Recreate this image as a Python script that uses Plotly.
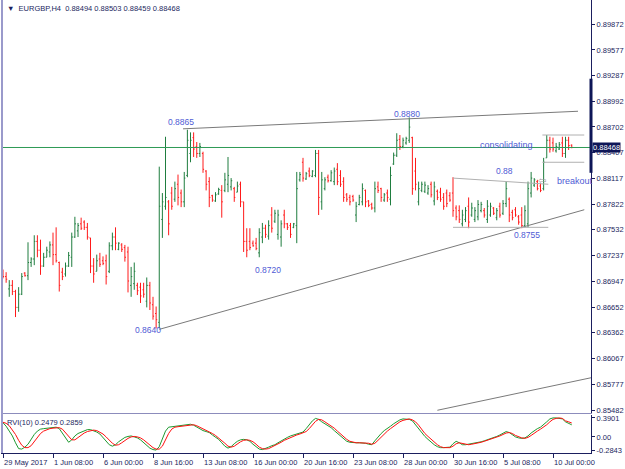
import plotly.graph_objects as go

# ---------------- data ----------------
open_ = [
 0.8706,0.8700,0.8686,0.8690,0.8683,0.8665,0.8680,0.8704,0.8701,0.8716,
 0.8720,0.8740,0.8730,0.8712,0.8722,0.8728,0.8736,0.8725,0.8716,0.8705,
 0.8703,0.8712,0.8722,0.8745,0.8752,0.8760,0.8762,0.8756,0.8744,0.8712,
 0.8706,0.8720,0.8718,0.8718,0.8706,0.8735,0.8745,0.8731,0.8736,0.8733,
 0.8728,0.8690,0.8692,0.8690,0.8688,0.8685,0.8672,0.8690,0.8668,0.8658,
 0.8648,0.8765,0.8780,0.8785,0.8795,0.8788,0.8805,0.8795,0.8785,0.8815,
 0.8840,0.8858,0.8848,0.8840,0.8840,0.8820,0.8808,0.8792,0.8786,0.8794,
 0.8798,0.8798,0.8805,0.8802,0.8800,0.8796,0.8805,0.8785,0.8740,0.8740,
 0.8738,0.8738,0.8727,0.8745,0.8755,0.8746,0.8770,0.8763,0.8748,0.8745,
 0.8770,0.8760,0.8758,0.8756,0.8758,0.8810,0.8830,0.8811,0.8820,0.8814,
 0.8815,0.8840,0.8785,0.8800,0.8813,0.8809,0.8808,0.8822,0.8815,0.8808,
 0.8793,0.8790,0.8791,0.8770,0.8782,0.8785,0.8798,0.8786,0.8782,0.8778,
 0.8802,0.8800,0.8787,0.8795,0.8788,0.8828,0.8838,0.8856,0.8848,0.8852,
 0.8855,0.8858,0.8820,0.8785,0.8798,0.8797,0.8795,0.8805,0.8786,0.8797,
 0.8796,0.8790,0.8795,0.8792,0.8795,0.8778,0.8775,0.8760,0.8765,0.8780,
 0.8770,0.8765,0.8768,0.8775,0.8775,0.8765,0.8770,0.8778,0.8767,0.8780,
 0.8772,0.8783,0.8788,0.8773,0.8776,0.8768,0.8770,0.8758,0.8760,0.8795,
 0.8804,0.8808,0.8803,0.8800,0.8835,0.8855,0.8852,0.8843,0.8845,0.8852,
 0.8840,0.8855,0.88494]
high = [
 0.8708,0.8705,0.8696,0.8696,0.8685,0.8688,0.8704,0.8705,0.8739,0.8722,
 0.8747,0.8747,0.8742,0.8727,0.8734,0.8740,0.8750,0.8756,0.8717,0.8710,
 0.8716,0.8728,0.8750,0.8768,0.8761,0.8767,0.8764,0.8761,0.8744,0.8721,
 0.8725,0.8727,0.8723,0.8725,0.8739,0.8750,0.8756,0.8739,0.8738,0.8736,
 0.8734,0.8711,0.8716,0.8693,0.8693,0.8693,0.8699,0.8694,0.8677,0.8666,
 0.8825,0.8795,0.8859,0.8787,0.8802,0.8808,0.8816,0.8799,0.8819,0.8867,
 0.8864,0.8864,0.8853,0.8852,0.8842,0.8821,0.8813,0.8793,0.8796,0.8801,
 0.8804,0.8818,0.8836,0.8812,0.8802,0.8808,0.8808,0.8785,0.8755,0.8755,
 0.8741,0.8744,0.8755,0.8761,0.8759,0.8764,0.8779,0.8776,0.8776,0.8764,
 0.8776,0.8761,0.8761,0.8761,0.8819,0.8819,0.8835,0.8819,0.8824,0.8821,
 0.8844,0.8844,0.8819,0.8813,0.8816,0.8821,0.8824,0.8829,0.8821,0.8813,
 0.8795,0.8793,0.8793,0.8785,0.8793,0.8806,0.8799,0.8787,0.8784,0.8808,
 0.8808,0.8801,0.8795,0.8799,0.8825,0.8841,0.8863,0.8861,0.8858,0.8859,
 0.8881,0.8859,0.8835,0.8808,0.8808,0.8808,0.8804,0.8808,0.8808,0.8799,
 0.8801,0.8795,0.8799,0.8796,0.8813,0.8781,0.8781,0.8776,0.8779,0.8790,
 0.8784,0.8779,0.8787,0.8785,0.8778,0.8787,0.8784,0.8779,0.8778,0.8784,
 0.8787,0.8808,0.8790,0.8776,0.8779,0.8770,0.8779,0.8781,0.8808,0.8819,
 0.8812,0.8810,0.8806,0.8835,0.8861,0.8859,0.8858,0.8852,0.8853,0.8859,
 0.8859,0.8859,0.88503]
low = [
 0.8698,0.8693,0.8677,0.8679,0.8654,0.8660,0.8679,0.8700,0.8696,0.8711,
 0.8713,0.8722,0.8702,0.8711,0.8722,0.8722,0.8713,0.8716,0.8683,0.8696,
 0.8700,0.8711,0.8711,0.8744,0.8745,0.8753,0.8753,0.8742,0.8704,0.8693,
 0.8706,0.8711,0.8713,0.8691,0.8704,0.8730,0.8730,0.8730,0.8728,0.8717,
 0.8682,0.8677,0.8685,0.8679,0.8670,0.8676,0.8665,0.8662,0.8651,0.8641,
 0.8641,0.8744,0.8776,0.8747,0.8776,0.8785,0.8781,0.8779,0.8779,0.8813,
 0.8830,0.8836,0.8835,0.8836,0.8818,0.8798,0.8779,0.8785,0.8785,0.8793,
 0.8767,0.8796,0.8796,0.8798,0.8785,0.8796,0.8779,0.8728,0.8722,0.8730,
 0.8734,0.8730,0.8722,0.8738,0.8744,0.8742,0.8750,0.8761,0.8742,0.8734,
 0.8755,0.8753,0.8744,0.8755,0.8738,0.8808,0.8808,0.8810,0.8813,0.8813,
 0.8813,0.8770,0.8776,0.8798,0.8807,0.8808,0.8804,0.8804,0.8802,0.8785,
 0.8785,0.8781,0.8785,0.8762,0.8781,0.8781,0.8779,0.8779,0.8776,0.8773,
 0.8795,0.8785,0.8785,0.8785,0.8781,0.8827,0.8836,0.8844,0.8846,0.8850,
 0.8852,0.8793,0.8798,0.8781,0.8796,0.8795,0.8793,0.8790,0.8781,0.8787,
 0.8785,0.8776,0.8779,0.8785,0.8768,0.8764,0.8761,0.8757,0.8762,0.8755,
 0.8768,0.8762,0.8764,0.8773,0.8767,0.8761,0.8768,0.8770,0.8764,0.8767,
 0.8770,0.8779,0.8762,0.8764,0.8768,0.8759,0.8755,0.8756,0.8756,0.8790,
 0.8802,0.8798,0.8796,0.8798,0.8835,0.8841,0.8842,0.8841,0.8844,0.8836,
 0.8835,0.8844,0.88459]
close = [
 0.8700,0.8697,0.8690,0.8683,0.8665,0.8680,0.8700,0.8701,0.8716,0.8720,
 0.8740,0.8730,0.8712,0.8722,0.8730,0.8736,0.8725,0.8718,0.8690,0.8700,
 0.8712,0.8724,0.8745,0.8760,0.8758,0.8755,0.8756,0.8745,0.8712,0.8703,
 0.8718,0.8714,0.8715,0.8700,0.8735,0.8745,0.8738,0.8738,0.8731,0.8722,
 0.8695,0.8700,0.8706,0.8684,0.8678,0.8680,0.8690,0.8670,0.8655,0.8651,
 0.8780,0.8785,0.8790,0.8760,0.8780,0.8800,0.8790,0.8785,0.8812,0.8855,
 0.8855,0.8845,0.8840,0.8848,0.8822,0.8805,0.8790,0.8787,0.8793,0.8799,
 0.8785,0.8810,0.8815,0.8809,0.8790,0.8803,0.8785,0.8740,0.8730,0.8733,
 0.8735,0.8732,0.8750,0.8755,0.8748,0.8758,0.8755,0.8772,0.8770,0.8760,
 0.8760,0.8756,0.8748,0.8760,0.8800,0.8816,0.8812,0.8817,0.8815,0.8820,
 0.8840,0.8790,0.8810,0.8810,0.8809,0.8818,0.8820,0.8808,0.8805,0.8790,
 0.8788,0.8785,0.8787,0.8780,0.8790,0.8800,0.8785,0.8781,0.8778,0.8800,
 0.8798,0.8790,0.8793,0.8790,0.8815,0.8838,0.8855,0.8848,0.8855,0.8857,
 0.8870,0.8800,0.8805,0.8800,0.8805,0.8804,0.8800,0.8793,0.8802,0.8790,
 0.8788,0.8780,0.8783,0.8787,0.8775,0.8768,0.8765,0.8770,0.8775,0.8762,
 0.8778,0.8775,0.8782,0.8782,0.8770,0.8780,0.8780,0.8772,0.8775,0.8770,
 0.8783,0.8800,0.8770,0.8767,0.8770,0.8762,0.8758,0.8775,0.8800,0.8812,
 0.8810,0.8800,0.8798,0.8830,0.8855,0.8845,0.8845,0.8848,0.8850,0.8840,
 0.8855,0.8849,0.88468]

rvi_main = [
 0.29,0.22,0.12,0.02,-0.12,-0.24,-0.25,-0.21,-0.15,-0.05,
 0.05,0.12,0.16,0.17,0.18,0.18,0.19,0.20,0.17,0.08,
 -0.03,-0.11,-0.06,0.02,0.07,0.10,0.13,0.15,0.15,0.13,
 0.10,0.06,-0.02,-0.10,-0.16,-0.19,-0.16,-0.10,-0.05,-0.01,
 0.01,0.02,0.00,-0.02,-0.06,-0.12,-0.18,-0.23,-0.26,-0.27,
 -0.20,-0.05,0.12,0.20,0.21,0.22,0.22,0.23,0.24,0.25,
 0.26,0.24,0.20,0.16,0.13,0.11,0.09,0.04,-0.01,-0.05,
 -0.12,-0.19,-0.23,-0.20,-0.14,-0.09,-0.06,-0.05,-0.06,-0.09,
 -0.15,-0.21,-0.25,-0.26,-0.24,-0.21,-0.18,-0.16,-0.12,-0.08,
 -0.04,-0.01,0.02,0.04,0.06,0.08,0.10,0.17,0.26,0.33,
 0.38,0.36,0.31,0.27,0.24,0.19,0.13,0.07,0.01,-0.05,
 -0.09,-0.11,-0.12,-0.12,-0.12,-0.12,-0.13,-0.15,-0.16,-0.08,
 0.00,0.07,0.13,0.17,0.22,0.27,0.31,0.35,0.37,0.37,
 0.36,0.33,0.25,0.16,0.07,0.01,-0.05,-0.11,-0.16,-0.20,
 -0.22,-0.22,-0.22,-0.21,-0.14,-0.09,-0.12,-0.16,-0.16,-0.15,
 -0.14,-0.12,-0.11,-0.10,-0.08,-0.06,-0.03,-0.01,0.01,0.04,
 0.08,0.11,0.09,0.04,0.00,-0.02,-0.03,-0.02,0.02,0.08,
 0.13,0.17,0.20,0.25,0.31,0.37,0.39,0.39,0.38,0.37,
 0.31,0.28,0.2479]
rvi_signal = [
 0.30,0.28,0.23,0.15,0.05,-0.07,-0.17,-0.22,-0.22,-0.18,
 -0.10,-0.01,0.07,0.12,0.15,0.17,0.18,0.19,0.19,0.16,
 0.09,0.00,-0.06,-0.06,-0.01,0.04,0.08,0.11,0.13,0.14,
 0.13,0.10,0.06,0.00,-0.07,-0.13,-0.17,-0.16,-0.12,-0.07,
 -0.03,0.00,0.01,0.00,-0.02,-0.06,-0.11,-0.17,-0.22,-0.25,
 -0.25,-0.19,-0.06,0.07,0.16,0.20,0.21,0.22,0.23,0.24,
 0.25,0.25,0.23,0.20,0.16,0.13,0.10,0.07,0.03,-0.02,
 -0.07,-0.13,-0.19,-0.21,-0.19,-0.14,-0.10,-0.07,-0.06,-0.07,
 -0.10,-0.15,-0.21,-0.24,-0.25,-0.24,-0.21,-0.18,-0.15,-0.11,
 -0.07,-0.04,-0.01,0.02,0.04,0.06,0.08,0.11,0.17,0.25,
 0.32,0.36,0.35,0.31,0.27,0.23,0.18,0.12,0.06,0.00,
 -0.05,-0.09,-0.11,-0.12,-0.12,-0.12,-0.12,-0.13,-0.15,-0.13,
 -0.07,0.00,0.07,0.12,0.17,0.22,0.27,0.31,0.34,0.36,
 0.37,0.35,0.31,0.24,0.15,0.07,0.01,-0.05,-0.11,-0.16,
 -0.20,-0.22,-0.22,-0.22,-0.19,-0.14,-0.12,-0.13,-0.15,-0.16,
 -0.15,-0.14,-0.12,-0.11,-0.09,-0.07,-0.05,-0.02,0.00,0.02,
 0.05,0.08,0.09,0.07,0.03,0.00,-0.02,-0.03,-0.01,0.03,
 0.08,0.12,0.16,0.20,0.25,0.31,0.36,0.38,0.39,0.38,
 0.33,0.31,0.2859]

x_tick_idx = [0, 16, 32, 48, 64, 80, 96, 112, 128, 144, 160, 176]
x_tick_labels = ["29 May 2017", "1 Jun 08:00", "6 Jun 00:00", "8 Jun 16:00",
                 "13 Jun 08:00", "16 Jun 00:00", "20 Jun 16:00", "23 Jun 08:00",
                 "28 Jun 00:00", "30 Jun 16:00", "5 Jul 08:00", "10 Jul 00:00"]
price_ticks = [0.89872, 0.89577, 0.89287, 0.88992, 0.88702, 0.88407, 0.88117,
               0.87822, 0.87532, 0.87237, 0.86947, 0.86652, 0.86362, 0.86067,
               0.85777, 0.85482]
rvi_ticks = [0.3901, 0.0, -0.2843]
rvi_tick_text = ["0.3901", "0.00", "-0.2843"]
last_price = 0.88468
scale_band = [0.8925, 0.8818]

# drawn objects (index, price)
upper_tl_x, upper_tl_y = [57.6, 184.0], [0.8868, 0.8888]
lower_tl_x, lower_tl_y = [50.0, 186.0], [0.8640, 0.8776]
channel_x, channel_y = [139.0, 188.2], [0.8548, 0.8585]
box_x = [172.6, 186.0]
box_top, box_bot = 0.8861, 0.8830
range_x = [144.0, 174.5]
range_top_y = [0.8812, 0.8805]
range_bot_y = [0.8756, 0.8756]
labels = [("0.8865", 57.0, 0.8876), ("0.8880", 129.3, 0.8885),
          ("0.8720", 84.8, 0.8708), ("0.8640", 46.4, 0.8639),
          ("0.88", 160.6, 0.8820), ("0.8755", 167.7, 0.8747)]

N = len(close)
xs = list(range(N))
NAVY = "#1b1f5e"
FONT = "Liberation Sans"
BLUE = "#4f5bd5"
GREY = "#8a8a8a"

fig = go.Figure()
fig.add_trace(go.Ohlc(x=xs, open=open_, high=high, low=low, close=close,
                      increasing=dict(line=dict(color="#1f7d3f", width=1)),
                      decreasing=dict(line=dict(color="#ff1a1a", width=1)),
                      tickwidth=0.35, xaxis="x", yaxis="y", showlegend=False,
                      hoverinfo="skip"))

def seg(x, y, color=GREY, width=1):
    fig.add_trace(go.Scatter(x=x, y=y, mode="lines", line=dict(color=color, width=width),
                             xaxis="x", yaxis="y", showlegend=False, hoverinfo="skip",
                             cliponaxis=True))

seg(upper_tl_x, upper_tl_y, "#7a7a7a")
seg(lower_tl_x, lower_tl_y, "#7a7a7a")
seg(channel_x, channel_y, "#7a7a7a")
seg(box_x, [box_top, box_top], "#b0b0b0")
seg(box_x, [box_bot, box_bot], "#b0b0b0")
seg(range_x, range_top_y, "#b0b0b0")
seg(range_x, range_bot_y, "#b0b0b0")
seg([-1, 200], [last_price, last_price], "#2e9a55")

fig.add_trace(go.Scatter(x=xs, y=rvi_main, mode="lines", line=dict(color="#1e9a30", width=1),
                         xaxis="x2", yaxis="y2", showlegend=False, hoverinfo="skip"))
fig.add_trace(go.Scatter(x=xs, y=rvi_signal, mode="lines", line=dict(color="#ff1010", width=1),
                         xaxis="x2", yaxis="y2", showlegend=False, hoverinfo="skip"))

xr = [-0.32, 188.16]
main_dom = [40 / 453, 1.0]
rvi_dom = [0.0, 38 / 453]

fig.update_layout(
    width=625, height=469,
    margin=dict(l=2, r=34, t=0, b=16),
    paper_bgcolor="white", plot_bgcolor="white",
    font=dict(family=FONT, size=8, color=NAVY),
    xaxis=dict(domain=[0, 1], range=xr, anchor="y", showticklabels=False, ticks="",
               showgrid=False, zeroline=False, showline=True, linecolor="#8c8cbc",
               linewidth=1, rangeslider=dict(visible=False)),
    yaxis=dict(domain=main_dom, range=[0.85449, 0.90145], side="right", anchor="x",
               tickvals=price_ticks, ticktext=[f"{v:.5f}" for v in price_ticks],
               ticks="outside", ticklen=3, tickcolor=NAVY, showgrid=False,
               zeroline=False, showline=True, linecolor=NAVY, linewidth=1,
               tickfont=dict(family=FONT, size=7.5, color=NAVY)),
    xaxis2=dict(domain=[0, 1], range=xr, anchor="y2", tickvals=x_tick_idx,
                ticktext=[""] * len(x_tick_idx), ticks="outside", ticklen=4,
                tickcolor=NAVY, showgrid=False, zeroline=False, showline=True,
                linecolor=NAVY, linewidth=1, rangeslider=dict(visible=False)),
    yaxis2=dict(domain=rvi_dom, range=[-0.33, 0.45], side="right", anchor="x2",
                tickvals=rvi_ticks, ticktext=rvi_tick_text, ticks="outside", ticklen=3,
                tickcolor=NAVY, showgrid=False, zeroline=False, showline=True,
                linecolor=NAVY, linewidth=1, mirror=True,
                tickfont=dict(family=FONT, size=7.5, color=NAVY)),
)

ann = []
for t, xv, yv in labels:
    ann.append(dict(x=xv, y=yv, xref="x", yref="y", text=t, showarrow=False,
                    font=dict(family=FONT, size=8.5, color=BLUE)))
ann.append(dict(x=161.0, y=0.8850, xref="x", yref="y", text="consolidating",
                showarrow=False, font=dict(family=FONT, size=9, color=BLUE)))
ann.append(dict(x=176.6, y=0.8809, xref="x", yref="y", text="breakout", xanchor="left",
                showarrow=False, font=dict(family=FONT, size=9, color=BLUE)))
ann.append(dict(x=172.4, y=0.8809, xref="x", yref="y", text="\u21e6", showarrow=False,
                font=dict(family="DejaVu Sans", size=10, color="#9a9a9a")))
for i, t in zip(x_tick_idx, x_tick_labels):
    ann.append(dict(x=i - 0.2, y=0, xref="x2", yref="paper", yshift=-3, text=t,
                    xanchor="left", yanchor="top", showarrow=False,
                    font=dict(family=FONT, size=7.5, color=NAVY)))
ann.append(dict(x=1.0, y=last_price, xref="paper", yref="y", text="0.88468",
                xanchor="left", showarrow=False, xshift=1, bgcolor="#0e1657",
                font=dict(family=FONT, size=7.5, color="white"), borderpad=0))
ann.append(dict(x=0.005, y=1.0, xref="paper", yref="paper", yshift=-2,
                text="\u25bc  EURGBP,H4  0.88494 0.88503 0.88459 0.88468",
                xanchor="left", yanchor="top", showarrow=False,
                font=dict(family=FONT, size=7.5, color=NAVY)))
ann.append(dict(x=0.005, y=rvi_dom[1], xref="paper", yref="paper", yshift=-1,
                text="RVI(10) 0.2479 0.2859", xanchor="left", yanchor="top",
                showarrow=False, font=dict(family=FONT, size=7.5, color=NAVY)))
fig.update_layout(annotations=ann)

fig.add_shape(type="line", xref="paper", yref="paper", x0=0, x1=0, y0=0, y1=1,
              line=dict(color="#9a9acb", width=2))
fig.add_shape(type="line", xref="paper", yref="y", x0=1.0, x1=1.0,
              y0=scale_band[0], y1=scale_band[1], line=dict(color="#0e1657", width=3))

fig.write_html("out.html")
